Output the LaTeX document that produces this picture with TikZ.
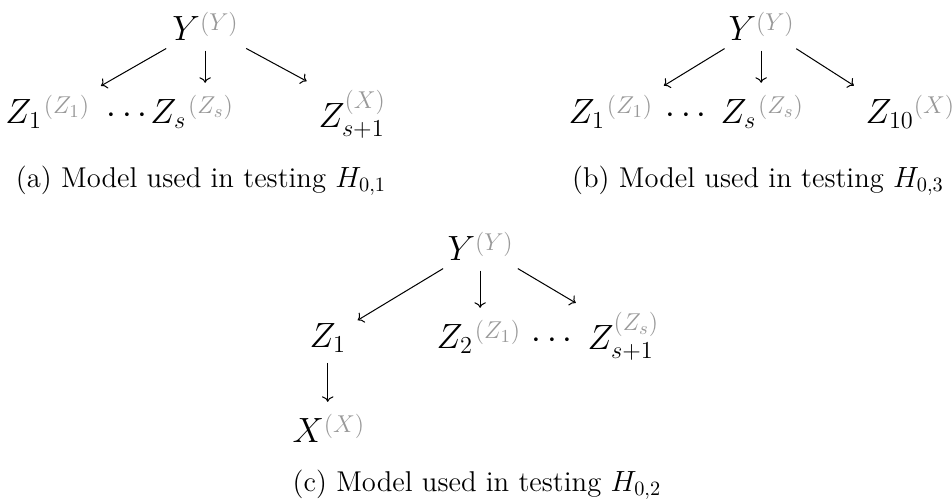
\documentclass[tikz,border=0pt]{standalone}
\usepackage{amsmath,amssymb}
\usepackage{xcolor}
\usepackage{graphicx}
\usetikzlibrary{arrows.meta, positioning, calc}

\DeclareMathSizes{18.7}{18.7}{11.8}{9}
\definecolor{suplbl}{gray}{0.6}
% grey superscript set after the symbol, and grey superscript stacked on it
\newcommand{\gsup}[1]{\raisebox{4.6pt}{\textcolor{suplbl}{$\scriptstyle(#1)$}}}
\newcommand{\gcol}[1]{\textcolor{suplbl}{(#1)}}

\begin{document}
\begin{tikzpicture}[
    x=0.4926pt, y=-0.4926pt,
    var/.style={font=\fontsize{18.7}{22}\selectfont, inner sep=3pt, anchor=base west},
    captxt/.style={font=\fontsize{14.1}{17}\selectfont, inner sep=0pt, anchor=base},
    arr/.style={->, line width=0.5pt, shorten <=2pt, shorten >=3pt},
  ]
  \useasboundingbox (0,0) rectangle (952,499);

  % (a) top left
  \node[var] (ya)   at (166,40)  {$Y\gsup{Y}$};
  \node[var] (z1a)  at (-1,123)  {$Z_1\mkern1mu\gsup{Z_1}$};
  \node[var] (dta)  at (100,123) {$\cdots$};
  \node[var] (zsa)  at (144,123) {$Z_s\mkern1mu\gsup{Z_s}$};
  \node[var] (zs1a) at (312,127) {$Z_{s+1}^{\gcol{X}}$};
  \draw[arr] (ya) -- (z1a.north east);
  \draw[arr] (ya) -- (ya |- zsa.north);
  \draw[arr] (ya) -- (zs1a.north west);
  \node[captxt] (capa) at (201,187) {(a) Model used in testing $H_{0,1}$};

  % (b) top right
  \node[var] (yb)   at (722,40)  {$Y\gsup{Y}$};
  \node[var] (z1b)  at (562,123) {$Z_1\mkern1mu\gsup{Z_1}$};
  \node[var] (dtb)  at (659,123) {$\cdots$};
  \node[var] (zsb)  at (714,123) {$Z_s\mkern1mu\gsup{Z_s}$};
  \node[var] (z10b) at (859,123) {$Z_{10}\gsup{X}$};
  \draw[arr] (yb) -- (z1b.north east);
  \draw[arr] (yb) -- (yb |- zsb.north);
  \draw[arr] (yb) -- (z10b.north west);
  \node[captxt] (capb) at (758,187) {(b) Model used in testing $H_{0,3}$};

  % (c) bottom, X hangs below Z_1
  \node[var] (yc)   at (441,260) {$Y\gsup{Y}$};
  \node[var] (z1c)  at (303,347) {$Z_1$};
  \node[var] (xc)   at (286,442) {$X\gsup{X}$};
  \node[var] (z2c)  at (430,348) {$Z_2\mkern1mu\gsup{Z_1}$};
  \node[var] (dtc)  at (525,348) {$\cdots$};
  \node[var] (zs1c) at (581,349) {$Z_{s+1}^{\gcol{Z_s}}$};
  \draw[arr] (yc) -- (z1c.30);
  \draw[arr] (yc) -- (yc |- z2c.north);
  \draw[arr] (yc) -- (zs1c.north west);
  \draw[arr] (z1c) -- (z1c |- xc.north);
  \node[captxt] (capc) at (477,491) {(c) Model used in testing $H_{0,2}$};

\end{tikzpicture}
\end{document}
